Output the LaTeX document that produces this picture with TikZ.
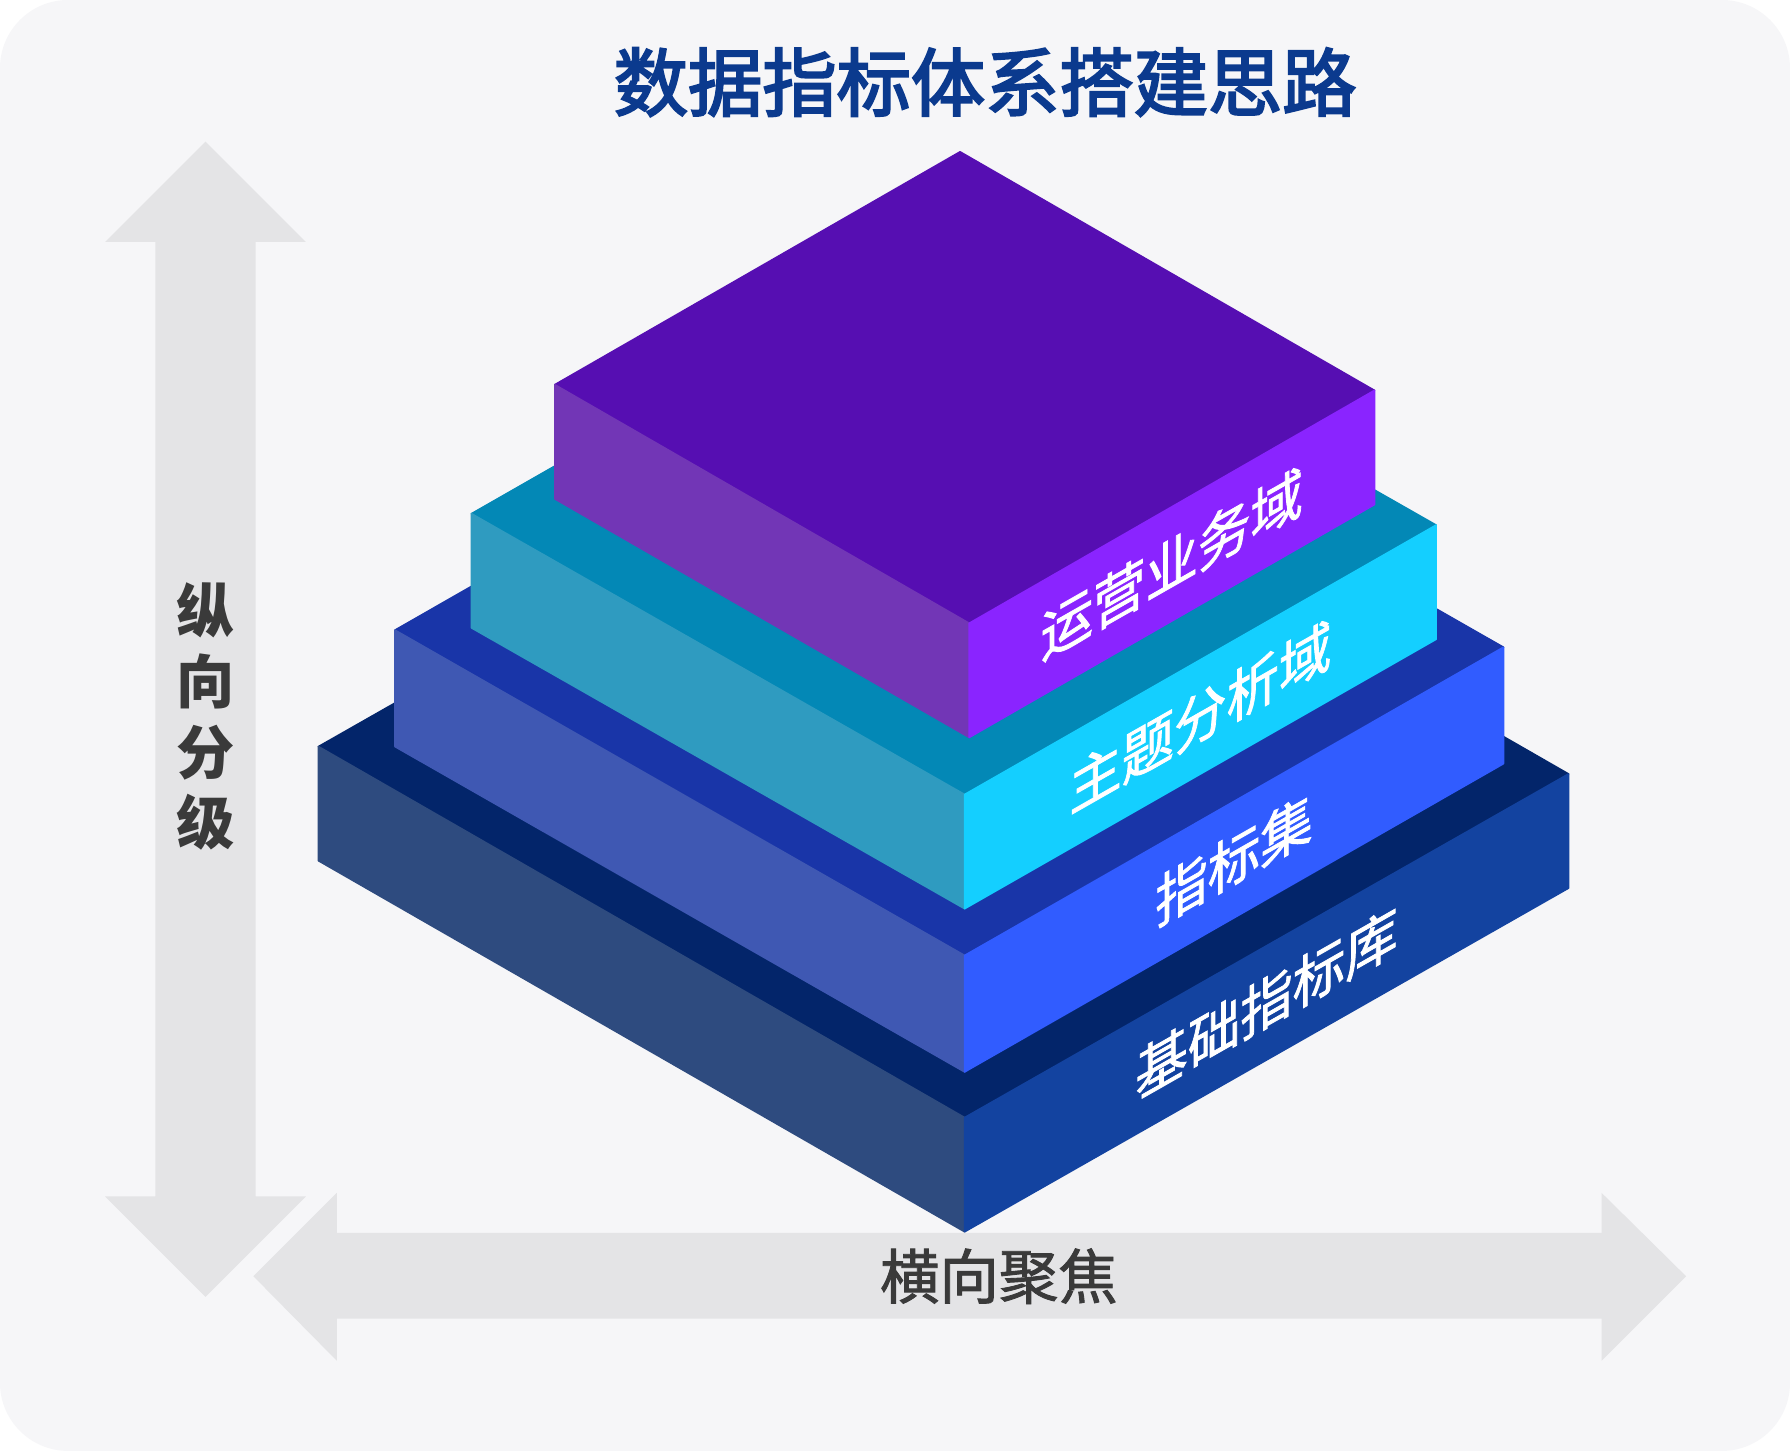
\documentclass[tikz,border=0pt]{standalone}
\usepackage{fontspec}
\setmainfont{Noto Sans CJK SC}
\newfontfamily\heavycjk{Noto Sans CJK SC}[FakeBold=3]
\newfontfamily\midcjk{Noto Sans CJK SC}[FakeBold=1.5]
\usepackage{xcolor}
\usetikzlibrary{calc}

\begin{document}
\begin{tikzpicture}[x=0.01cm,y=-0.01cm,
  face/.style={line width=0.4pt,line join=round},
  bigarrow/.style={fill=arrowgray,line join=miter},
  sidelabel/.style={text=white,inner sep=0pt,font=\midcjk\fontsize{14.2}{16}\selectfont,yslant=0.57,xscale=0.92},
  axislabel/.style={text=axisgray,inner sep=0pt,align=center}]
\definecolor{bggray}{HTML}{F6F6F8}
\definecolor{arrowgray}{HTML}{E4E4E6}
\definecolor{titleblue}{HTML}{0B3A8E}
\definecolor{axisgray}{HTML}{3A3A3A}
\definecolor{toplib}{HTML}{03256A}
\definecolor{leftlib}{HTML}{2E4B7F}
\definecolor{rightlib}{HTML}{1343A0}
\definecolor{topset}{HTML}{1935A8}
\definecolor{leftset}{HTML}{3F58B3}
\definecolor{rightset}{HTML}{315CFF}
\definecolor{toptopic}{HTML}{0388B6}
\definecolor{lefttopic}{HTML}{2F9BC0}
\definecolor{righttopic}{HTML}{14CFFF}
\definecolor{topops}{HTML}{560EB2}
\definecolor{leftops}{HTML}{7236B6}
\definecolor{rightops}{HTML}{8A24FF}
\useasboundingbox (0,0) rectangle (1568,1271);
\fill[white] (0,0) rectangle (1568,1271);
\fill[bggray,rounded corners=17pt] (0,0) rectangle (1568,1271);
\node[text=titleblue,font=\heavycjk\fontsize{18.5}{22}\selectfont] (title) at (863,72) {数据指标体系搭建思路};
\path[bigarrow] (180,124) -- (268,212) -- (224,212) -- (224,1048) -- (268,1048) -- (180,1136)
  -- (92,1048) -- (136,1048) -- (136,212) -- (92,212) -- cycle;
\path[bigarrow] (222,1118) -- (295,1045) -- (295,1080) -- (1403,1080) -- (1403,1045) -- (1477,1118)
  -- (1403,1192) -- (1403,1155) -- (295,1155) -- (295,1192) -- cycle;
\node[axislabel,font=\bfseries\fontsize{14.5}{17.6}\selectfont] (vlabel) at (180,628) {纵\\向\\分\\级};
\node[axislabel,font=\midcjk\fontsize{14.8}{17}\selectfont] (hlabel) at (875,1118) {横向聚焦};
\foreach \lx/\ly/\bx/\by/\rx/\ry/\hh/\lyr/\txt in
  {279/654/845/979/1374/678/100/lib/基础指标库,
   346/552/845/837/1317/567/102/set/指标集,
   413/450/845/696/1258/460/100/topic/主题分析域,
   486/337/849/546/1204/342/100/ops/运营业务域}
{ \coordinate (L) at (\lx,\ly);
  \coordinate (B) at (\bx,\by);
  \coordinate (R) at (\rx,\ry);
  \path[face,fill=top\lyr,draw=top\lyr] (L) -- (B) -- (R) -- ($(L)+(R)-(B)$) -- cycle;
  \path[face,fill=left\lyr,draw=left\lyr] (L) -- (B) -- ++(0,\hh) -- ($(L)+(0,\hh)$) -- cycle;
  \path[face,fill=right\lyr,draw=right\lyr] (B) -- (R) -- ++(0,\hh) -- ($(B)+(0,\hh)$) -- cycle;
  \node[sidelabel] (label-\lyr) at ($(B)!0.5!(R)+(0,\hh/2)$) {\txt};}
\end{tikzpicture}
\end{document}
